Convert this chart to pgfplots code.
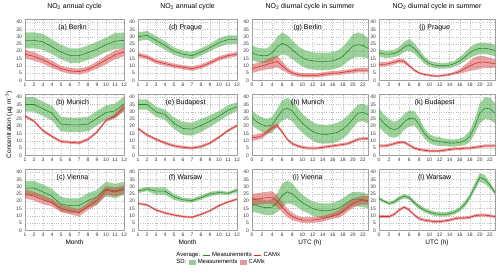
\documentclass[border=0pt]{standalone}
\usepackage{fontspec}
\setmainfont{Liberation Sans}
\usepackage{pgfplots}
\pgfplotsset{compat=1.18}
\usepackage{pgfplotstable}
\usepgfplotslibrary{fillbetween}

\definecolor{gline}{RGB}{40,135,40}
\definecolor{gfill}{RGB}{60,165,60}
\definecolor{rline}{RGB}{215,45,45}
\definecolor{rfill}{RGB}{215,70,70}

% ---------- annual data ----------
\pgfplotstableread{
x gm gs rm rs
1 27.5 5.5 18 3
2 27.5 5.5 16.5 3
3 26.5 5.5 14 2.5
4 23 5 11 2.5
5 19.5 5 8 2
6 17 5 6.5 2
7 17 5 6 2
8 19 5 7.5 2
9 21.5 5 10.5 2.5
10 24.5 5 14 3
11 27 5.5 17.5 3
12 27.5 5.5 19.5 3
}\tabA
\pgfplotstableread{
x gm gs rm rs
1 35 5 27 1
2 35 5 23.5 1
3 32 5 17 1
4 29 5 13 1
5 21.5 5 9.5 1
6 21 5 9 1
7 21 5 8.5 1
8 21.5 5 11 1
9 25.5 5 16 1
10 29.5 5 24 1
11 30.5 5 27 1.5
12 35.5 5 33 2.5
}\tabB
\pgfplotstableread{
x gm gs rm rs
1 29 5 25 3
2 29 5 23.5 3
3 26.5 5 21 3
4 23.5 5 19 2.5
5 18 5 15 2.5
6 17 5 13.5 2.5
7 17 5 12 2.5
8 20.5 5 16.5 2.5
9 23 5 20.5 3
10 28.5 5 27.5 3
11 27 5 26.5 3
12 29 4.5 28 3
}\tabC
\pgfplotstableread{
x gm gs rm rs
1 30 3 17.5 1.5
2 31 3 16 1.5
3 27.5 3 13 1.5
4 24 3 11.5 1.5
5 20 2.5 10 1.5
6 18 2.5 9 1.5
7 17 2.5 8 1.5
8 19.5 2.5 9.5 1.5
9 22.5 2.5 12 1.5
10 26 3 15 1.5
11 28 3 17 1.5
12 28 3 18 1.5
}\tabD
\pgfplotstableread{
x gm gs rm rs
1 35 3.5 18.5 1
2 35 3.5 14 1
3 30 3.5 11 1
4 28 3.5 8.5 1
5 22 4 6.5 1
6 18.5 4.5 5.5 1
7 18 4.5 5 1
8 20.5 4.5 6 1
9 23.5 4 8.5 1
10 27 3.5 12.5 1
11 31 3.5 17 1
12 33.5 3 20.5 1
}\tabE
\pgfplotstableread{
x gm gs rm rs
1 27 1.5 18.5 0.8
2 28.5 1.5 17.5 0.8
3 27 2.5 14 0.8
4 27 2.5 12 0.8
5 23 2 10.5 0.8
6 21 1.5 9.5 0.8
7 20.5 1.5 9 0.8
8 22.5 1.5 11 0.8
9 25 1.5 13.5 0.8
10 26 1.5 17 0.8
11 25.5 1 19.5 0.8
12 27.5 1.5 21.5 0.8
}\tabF
% ---------- diurnal data ----------
\pgfplotstableread{
x gm gs rm rs
0 19 5 8 3
1 17.5 5 9 3
2 17 5 10 3
3 17 5 11 3.5
4 19 6 12 4
5 23 7 13 4
6 25.5 7.5 10 3
7 24 7 7 2
8 21 6.5 5 1.5
9 18 6 4 1.5
10 15.5 6 3.5 1.5
11 14 6 3.5 1.5
12 13.5 6 3.5 1.5
13 13 6 3.5 1.5
14 13 6 4 1.5
15 13 6 4.5 1.5
16 13.5 6 5 1.5
17 14.5 6 5 1.5
18 16.5 6.5 5.5 1.5
19 20 7 6 1.5
20 23.5 8 6.5 1.5
21 24.5 8.5 7 1.5
22 24 8 7 1.5
23 22 7 7 1.5
}\tabG
\pgfplotstableread{
x gm gs rm rs
0 26 5 12 2
1 23 5 12.5 2
2 21 5 13.5 2
3 20 5 16 1.5
4 21 5.5 19 1.5
5 26 6 20.5 1.5
6 31 7 16 1
7 32.5 7 11 1
8 30.5 7 8 1
9 26 7 6.5 1
10 22 6.5 5.5 1
11 19 6.5 5 1
12 16.5 6.5 5 1
13 15 6.5 5 1
14 14.5 6.5 5.5 1
15 14.5 6.5 6 1
16 15 6.5 6.5 1
17 16 6.5 7 1
18 18 6.5 7.5 1
19 21 6.5 8 1
20 25 6 9.5 1
21 29 6 11 1
22 29.5 6 11.5 1
23 28 6 11.5 1
}\tabH
\pgfplotstableread{
x gm gs rm rs
0 18 5 21 4
1 17 5 21.5 4
2 16 5 22 4
3 15.5 5 22.5 4
4 16 5.5 22.5 4.5
5 19 6.5 20 4
6 24 8 16 3.5
7 26.5 8 12 3
8 25 7 9.5 2.5
9 22 6 8 2
10 19 5.5 7 2
11 17 5 7 2
12 15 5 7 2
13 14 5 7.5 2
14 13.5 5 8 2
15 13.5 5 9 2
16 14 5 10 2
17 15 5 11 2.5
18 17 5 13 3
19 19.5 5 16 3
20 21.5 5 18.5 3
21 21.5 5 20 3
22 21 5 21 3
23 20 5 20.5 3
}\tabI
\pgfplotstableread{
x gm gs rm rs
0 19 2.5 11 1.5
1 18 2.5 11 1.5
2 18 2.5 11.5 1.5
3 18.5 2.5 12.5 1.5
4 20 3 13.5 1.5
5 23 3.5 13 1.5
6 24.5 4 10 1
7 22 3.5 7 1
8 18 3 5 0.8
9 14 2.5 4 0.8
10 11.5 2 3.5 0.8
11 10.5 2 3 0.8
12 10 2 3 0.8
13 10 2 3.5 0.8
14 10.5 2 4 0.8
15 11.5 2 5 1
16 13.5 2.5 6 1.5
17 16 3 8 2.5
18 19 3.5 10 3.5
19 21 4 11.5 4.5
20 22 4 12.5 4.5
21 22 4 12.5 4
22 21.5 4 12 3.5
23 20.5 4 11.5 3
}\tabJ
\pgfplotstableread{
x gm gs rm rs
0 26 6.5 6.5 1
1 22 6 6.5 1
2 19 6 7 1
3 17.5 5.5 8 1
4 19 5.5 9 1
5 23 5.5 9 1
6 25.5 5.5 7 1
7 25.5 5 5 1
8 21 4.5 4 1
9 15 3.5 3.5 1
10 11.5 3 3 1
11 10 3 3 1
12 9.5 3 3 1
13 9 2.5 3.5 1
14 8.5 2.5 4 1
15 8.5 2.5 4.5 1
16 9 2.5 4.5 1
17 10 3 5 1
18 13 4 5 1
19 20 5 5.5 1
20 29 7 6 1
21 32.5 7.5 6.5 1
22 32 7.5 6.5 1
23 29 7 6.5 1
}\tabK
\pgfplotstableread{
x gm gs rm rs
0 22 1 9.5 1
1 20 1 9.5 1
2 18.5 1 9.5 1
3 19.5 1.5 11 1
4 22 1.5 14 1
5 23.5 1.5 16 1
6 22.5 1.5 14 1
7 19 1.5 10.5 1
8 16 1.5 8 1
9 14 1.5 7 1
10 12.5 1.5 6.5 1
11 11.5 1.5 6 1
12 11 1.5 6 1
13 11 1.5 6.5 1
14 11.5 1.5 7 1
15 12.5 1.5 8 1
16 14.5 1.5 8.5 1
17 18 2 8.5 1
18 23 2 9 1
19 30 2.5 10 1
20 36.5 3 10.5 1
21 35 3 10.5 1
22 31 2 10 1
23 26 1.5 9.5 1
}\tabL

\pgfplotsset{
  panel/.style={scale only axis, height=61bp, ymin=0, ymax=42,
    ytick={0,5,...,40}, grid=major,
    grid style={dotted, gray!50, line width=0.4pt},
    axis line style={gray!75, line width=0.4pt},
    major tick length=0pt,
    tick label style={font=\fontsize{5}{6}\selectfont, text=black!80},
    xticklabel style={yshift=1pt}, yticklabel style={xshift=0.5pt},
    /pgf/number format/assume math mode=true,
    title style={font=\fontsize{7}{8}\selectfont, yshift=0pt},
    label style={font=\fontsize{6.5}{7.5}\selectfont},
    xlabel style={yshift=3pt},
  },
  annual/.style={panel, width=99bp, xmin=1, xmax=12, xtick={1,...,12}},
  diurnal/.style={panel, width=116bp, xmin=0, xmax=23, xtick={0,2,...,22}},
  legrow/.style={hide axis, scale only axis, width=1bp, height=1bp,
    xmin=0, xmax=1, ymin=0, ymax=1, anchor=south west,
    legend style={at={(0,0)}, anchor=west, draw=none, fill=none,
      font=\fontsize{6}{7}\selectfont, inner sep=0pt,
      nodes={inner xsep=1.2bp, inner ysep=0.5bp, draw=none},
      column sep=1bp},
    legend columns=-1},
}

\newcommand{\drawpanel}[2]{%
  \addplot[name path=gu, draw=none, forget plot] table[x=x, y expr=\thisrow{gm}+\thisrow{gs}] {#1};
  \addplot[name path=gl, draw=none, forget plot] table[x=x, y expr=\thisrow{gm}-\thisrow{gs}] {#1};
  \addplot[fill=gfill, fill opacity=0.5, draw=none, forget plot] fill between[of=gu and gl];
  \addplot[name path=ru, draw=none, forget plot] table[x=x, y expr=\thisrow{rm}+\thisrow{rs}] {#1};
  \addplot[name path=rl, draw=none, forget plot] table[x=x, y expr=\thisrow{rm}-\thisrow{rs}] {#1};
  \addplot[fill=rfill, fill opacity=0.5, draw=none, forget plot] fill between[of=ru and rl];
  \addplot[gline, line width=0.6pt, forget plot] table[x=x, y=gm] {#1};
  \addplot[rline, line width=0.6pt, forget plot] table[x=x, y=rm] {#1};
  \node[font=\fontsize{7}{8}\selectfont] at (rel axis cs:0.48,0.87) {#2};
}

\begin{document}
\begin{tikzpicture}
\path (0,0) rectangle (500bp,271bp);
% row 1
\begin{axis}[annual, at={(25bp,191bp)}, anchor=south west, title={NO\textsubscript{2} annual cycle}]
\drawpanel{\tabA}{(a) Berlin}
\end{axis}
\begin{axis}[annual, at={(138bp,191bp)}, anchor=south west, title={NO\textsubscript{2} annual cycle}]
\drawpanel{\tabD}{(d) Prague}
\end{axis}
\begin{axis}[diurnal, at={(252bp,191bp)}, anchor=south west, title={NO\textsubscript{2} diurnal cycle in summer}]
\drawpanel{\tabG}{(g) Berlin}
\end{axis}
\begin{axis}[diurnal, at={(379bp,191bp)}, anchor=south west, title={NO\textsubscript{2} diurnal cycle in summer}]
\drawpanel{\tabJ}{(j) Prague}
\end{axis}
% row 2
\begin{axis}[annual, at={(25bp,116bp)}, anchor=south west, ylabel={Concentration (µg m\textsuperscript{−3})}, ylabel style={yshift=-3pt}]
\drawpanel{\tabB}{(b) Munich}
\end{axis}
\begin{axis}[annual, at={(138bp,116bp)}, anchor=south west]
\drawpanel{\tabE}{(e) Budapest}
\end{axis}
\begin{axis}[diurnal, at={(252bp,116bp)}, anchor=south west]
\drawpanel{\tabH}{(h) Munich}
\end{axis}
\begin{axis}[diurnal, at={(379bp,116bp)}, anchor=south west]
\drawpanel{\tabK}{(k) Budapest}
\end{axis}
% row 3
\begin{axis}[annual, at={(25bp,41bp)}, anchor=south west, xlabel={Month}]
\drawpanel{\tabC}{(c) Vienna}
\end{axis}
\begin{axis}[annual, at={(138bp,41bp)}, anchor=south west, xlabel={Month}]
\drawpanel{\tabF}{(f) Warsaw}
\end{axis}
\begin{axis}[diurnal, at={(252bp,41bp)}, anchor=south west, xlabel={UTC (h)}]
\drawpanel{\tabI}{(i) Vienna}
\end{axis}
\begin{axis}[diurnal, at={(379bp,41bp)}, anchor=south west, xlabel={UTC (h)}]
\drawpanel{\tabL}{(l) Warsaw}
\end{axis}
% legend row 1
\begin{axis}[legrow, at={(174bp,16bp)}]
\addplot[draw=none, forget plot] coordinates {(0,0) (1,1)};
\addlegendimage{empty legend}\addlegendentry{Average:}
\addlegendimage{legend image code/.code={\draw[draw=gline, line width=0.6pt] (0bp,0bp) -- (7bp,0bp);}}\addlegendentry{Measurements}
\addlegendimage{legend image code/.code={\draw[draw=rline, line width=0.6pt] (0bp,0bp) -- (7bp,0bp);}}\addlegendentry{CAMx}
\end{axis}
% legend row 2
\begin{axis}[legrow, at={(174bp,9bp)}]
\addplot[draw=none, forget plot] coordinates {(0,0) (1,1)};
\addlegendimage{empty legend}\addlegendentry{SD:\hspace{9bp}}
\addlegendimage{legend image code/.code={\path[fill=gfill!55, draw=none] (0bp,-2.6bp) rectangle (7bp,2.6bp);}}\addlegendentry{Measurements}
\addlegendimage{legend image code/.code={\path[fill=rfill!55, draw=none] (0bp,-2.6bp) rectangle (7bp,2.6bp);}}\addlegendentry{CAMx}
\end{axis}
\end{tikzpicture}
\end{document}
